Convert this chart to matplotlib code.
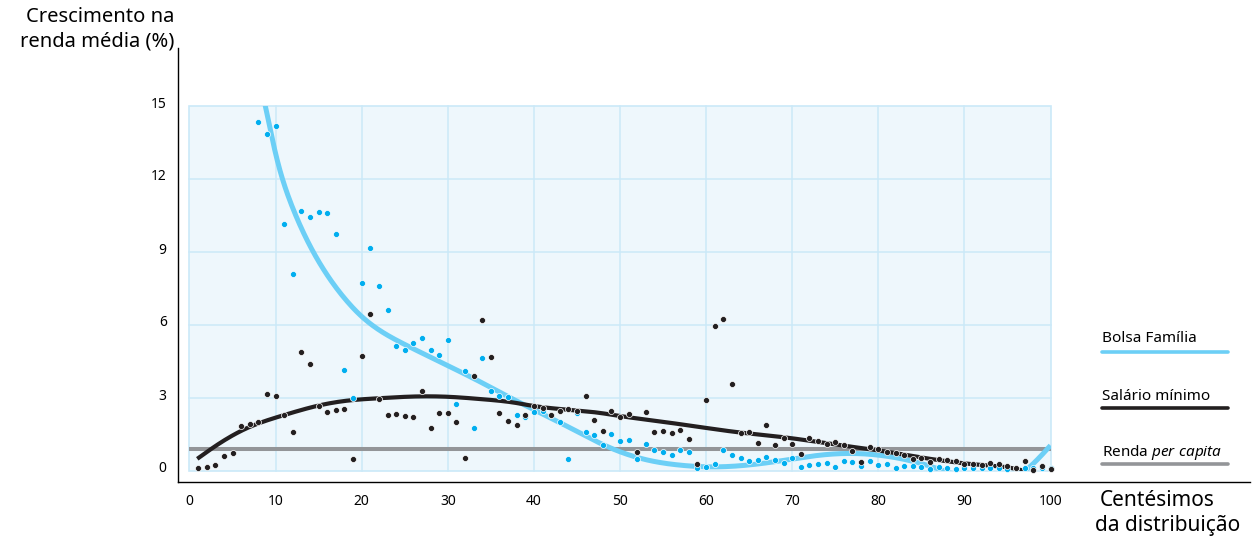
import numpy as np
import matplotlib
matplotlib.use("Agg")
import matplotlib.pyplot as plt
from matplotlib.patches import Rectangle
from matplotlib.lines import Line2D
from matplotlib.transforms import ScaledTranslation

# ---------------------------------------------------------------- data
centiles = np.arange(1, 101)

# Crescimento na renda média (%) por centésimo – Salário mínimo
salario_minimo = [
    0.14, 0.16, 0.25, 0.60, 0.75, 1.84, 1.94, 2.01, 3.15, 3.07,
    2.30, 1.59, 4.90, 4.41, 2.69, 2.41, 2.49, 2.55, 0.49, 4.74,
    6.45, 2.96, 2.30, 2.33, 2.25, 2.22, 3.30, 1.77, 2.37, 2.37,
    2.00, 0.53, 3.90, 6.19, 4.70, 2.40, 2.05, 1.88, 2.31, 2.67,
    2.59, 2.30, 2.45, 2.54, 2.48, 3.07, 2.11, 1.66, 2.45, 2.23,
    2.33, 0.77, 2.41, 1.62, 1.64, 1.56, 1.67, 1.33, 0.30, 2.93,
    5.96, 6.26, 3.59, 1.55, 1.60, 1.14, 1.89, 1.08, 1.34, 1.11,
    0.71, 1.36, 1.25, 1.12, 1.19, 1.07, 0.84, 0.38, 0.99, 0.90,
    0.80, 0.72, 0.64, 0.51, 0.55, 0.38, 0.49, 0.44, 0.40, 0.27,
    0.27, 0.26, 0.34, 0.27, 0.20, 0.14, 0.40, 0.05, 0.20, 0.10,
]

# Crescimento na renda média (%) por centésimo – Bolsa Família
# (centésimos 1 a 7 ficam acima da escala do gráfico)
bolsa_familia = [
    np.nan, np.nan, np.nan, np.nan, np.nan, np.nan, np.nan, 14.36, 13.86, 14.18,
    10.17, 8.11, 10.70, 10.44, 10.64, 10.62, 9.73, 4.16, 2.99, 7.74,
    9.15, 7.60, 6.62, 5.12, 4.96, 5.26, 5.45, 4.99, 4.75, 5.40,
    2.74, 4.10, 1.75, 4.66, 3.29, 3.10, 3.05, 2.30, 2.22, 2.42,
    2.45, 2.30, 2.00, 0.49, 2.38, 1.62, 1.47, 1.07, 1.51, 1.23,
    1.26, 0.51, 1.11, 0.86, 0.78, 0.66, 0.85, 0.77, 0.14, 0.18,
    0.28, 0.86, 0.64, 0.53, 0.40, 0.45, 0.58, 0.45, 0.32, 0.55,
    0.15, 0.25, 0.27, 0.34, 0.15, 0.41, 0.37, 0.20, 0.40, 0.26,
    0.29, 0.14, 0.20, 0.22, 0.15, 0.10, 0.15, 0.12, 0.10, 0.11,
    0.11, 0.11, 0.12, 0.12, 0.10, 0.12, 0.12, 0.12, 0.12, 0.12,
]

# Curvas de tendência (pontos de controle)
bolsa_curve_x = [8.2, 8.8, 10.1, 12.0, 14.0, 16.0, 18.0, 20.0, 22.0, 25.0,
                 30.0, 34.0, 37.7, 40.0, 44.0, 47.7, 49.5, 53.2, 57.0, 60.5,
                 65.0, 68.7, 72.5, 76.4, 80.3, 84.2, 87.7, 92.0, 97.0, 100.0]
bolsa_curve_y = [16.0, 15.0, 12.9, 10.8, 9.25, 8.05, 7.1, 6.35, 5.8, 5.2,
                 4.33, 3.62, 2.93, 2.52, 1.81, 1.14, 0.86, 0.45, 0.24, 0.17,
                 0.25, 0.42, 0.62, 0.72, 0.64, 0.38, 0.0, -0.45, 0.0, 1.05]

salario_curve_x = [0.9, 3.2, 6.6, 11.0, 15.0, 18.3, 22.0, 26.0, 30.0, 34.0,
                   37.7, 40.0, 44.0, 48.0, 50.0, 55.0, 60.0, 64.0, 68.7, 72.5,
                   76.4, 80.3, 84.2, 88.0, 91.9, 95.8, 96.9]
salario_curve_y = [0.50, 1.07, 1.75, 2.30, 2.69, 2.89, 2.99, 3.06, 3.05, 2.95,
                   2.81, 2.67, 2.52, 2.37, 2.26, 2.02, 1.77, 1.58, 1.40, 1.22,
                   1.02, 0.83, 0.60, 0.40, 0.25, 0.10, 0.01]

renda_per_capita = 0.9

xticks = list(range(0, 101, 10))
yticks = [0, 3, 6, 9, 12, 15]
grid_x = list(range(10, 100, 10))
grid_y = [3, 6, 9, 12]

legend_labels = ["Bolsa Família", "Salário mínimo", "Renda $\\it{per\\ capita}$"]

# ---------------------------------------------------------------- style
BLUE_LINE = "#6ccff6"
BLUE_DOT = "#00aeef"
BLACK = "#231f20"
GRAY = "#939598"
PANEL = "#eef7fc"
GRID = "#cbe9f8"
FONT = "Noto Sans"

plt.rcParams["font.family"] = [FONT, "DejaVu Sans"]
plt.rcParams["mathtext.fontset"] = "custom"
plt.rcParams["mathtext.it"] = f"{FONT}:italic"
plt.rcParams["mathtext.rm"] = FONT


def natural_spline(xk, yk, n=600):
    """Natural cubic spline through the control points."""
    xk = np.asarray(xk, float)
    yk = np.asarray(yk, float)
    m = len(xk)
    h = np.diff(xk)
    A = np.zeros((m, m))
    b = np.zeros(m)
    A[0, 0] = A[-1, -1] = 1.0
    for i in range(1, m - 1):
        A[i, i - 1] = h[i - 1]
        A[i, i] = 2 * (h[i - 1] + h[i])
        A[i, i + 1] = h[i]
        b[i] = 3 * ((yk[i + 1] - yk[i]) / h[i] - (yk[i] - yk[i - 1]) / h[i - 1])
    c = np.linalg.solve(A, b)
    xs = np.linspace(xk[0], xk[-1], n)
    idx = np.clip(np.searchsorted(xk, xs) - 1, 0, m - 2)
    dx = xs - xk[idx]
    hi = h[idx]
    bi = (yk[idx + 1] - yk[idx]) / hi - hi * (2 * c[idx] + c[idx + 1]) / 3
    di = (c[idx + 1] - c[idx]) / (3 * hi)
    ys = yk[idx] + bi * dx + c[idx] * dx ** 2 + di * dx ** 3
    return xs, ys


# ---------------------------------------------------------------- figure
W, H = 1253, 539
fig = plt.figure(figsize=(W / 100, H / 100), dpi=100)

# pixel geometry of the plotting frame
px_x0, px_x100 = 189.5, 1050.5
px_y0, px_y15 = 471.0, 106.0
ax_l, ax_r, ax_t, ax_b = 178.5, 1250.0, 48.0, 482.0
sx = (px_x100 - px_x0) / 100.0
sy = (px_y0 - px_y15) / 15.0

ax = fig.add_axes([ax_l / W, (H - ax_b) / H, (ax_r - ax_l) / W, (ax_b - ax_t) / H])
ax.set_xlim((ax_l - px_x0) / sx, (ax_r - px_x0) / sx)
ax.set_ylim(-(ax_b - px_y0) / sy, (px_y0 - ax_t) / sy)
ax.patch.set_visible(False)

for side in ("top", "right"):
    ax.spines[side].set_visible(False)
for side in ("left", "bottom"):
    ax.spines[side].set_linewidth(1.0)
    ax.spines[side].set_color("black")

# panel background
panel = Rectangle((0, 0), 100, 15, facecolor=PANEL, edgecolor=GRID,
                  linewidth=1.2, zorder=0)
ax.add_patch(panel)
for gx in grid_x:
    ax.plot([gx, gx], [0, 15], color=GRID, linewidth=1.1, zorder=1)
for gy in grid_y:
    ax.plot([0, 100], [gy, gy], color=GRID, linewidth=1.1, zorder=1)

# reference line
ax.plot([0, 100], [renda_per_capita, renda_per_capita], color=GRAY,
        linewidth=2.9, solid_capstyle="butt", zorder=2)

# trend curves
bx, by = natural_spline(bolsa_curve_x, bolsa_curve_y)
lb, = ax.plot(bx, by, color=BLUE_LINE, linewidth=3.6, solid_capstyle="butt", zorder=3)
lb.set_clip_path(panel)
sxs, sys_ = natural_spline(salario_curve_x, salario_curve_y)
ls, = ax.plot(sxs, sys_, color=BLACK, linewidth=3.0, solid_capstyle="butt", zorder=3)
ls.set_clip_path(panel)

# scatter points
ax.scatter(centiles, bolsa_familia, s=19, color=BLUE_DOT, edgecolors="white",
           linewidths=0.5, zorder=4)
ax.scatter(centiles, salario_minimo, s=19, color=BLACK, edgecolors="white",
           linewidths=0.5, zorder=5)

# ticks
ax.set_xticks(xticks, [str(t) for t in xticks])
ax.set_yticks(yticks, [str(t) for t in yticks])
ax.tick_params(axis="both", length=0, labelsize=10, colors="black")
ax.tick_params(axis="x", pad=8.5)
ax.tick_params(axis="y", pad=8.5)
for tick in ax.yaxis.get_major_ticks():
    tick.label1.set_transform(tick.label1.get_transform() +
                              ScaledTranslation(0, 4 / 100, fig.dpi_scale_trans))

# axis titles
fig.text(174 / W, 1 - 17 / H, "Crescimento na", ha="right", va="center", fontsize=14.5)
fig.text(174 / W, 1 - 42 / H, "renda média (%)", ha="right", va="center", fontsize=14.5)
fig.text(1100 / W, 1 - 500 / H, "Centésimos", ha="left", va="center", fontsize=15)
fig.text(1095 / W, 1 - 525 / H, "da distribuição", ha="left", va="center", fontsize=15)

# legend
legend_colors = [BLUE_LINE, BLACK, GRAY]
legend_text_y = [339, 396, 452]
legend_line_y = [352, 408, 464]
for lab, col, ty, ly in zip(legend_labels, legend_colors, legend_text_y, legend_line_y):
    fig.text(1102 / W, 1 - ty / H, lab, ha="left", va="center", fontsize=11)
    fig.add_artist(Line2D([1102 / W, 1228 / W], [1 - ly / H, 1 - ly / H],
                          transform=fig.transFigure, color=col, linewidth=2.6,
                          solid_capstyle="round"))

fig.savefig("out.png", dpi=100)
